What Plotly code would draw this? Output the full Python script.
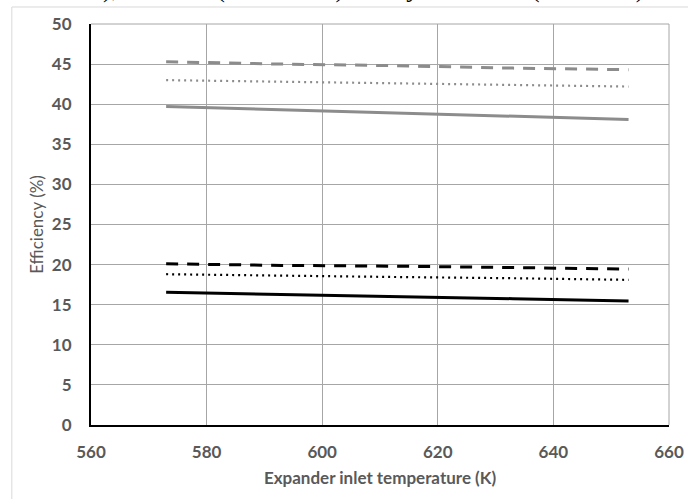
import plotly.graph_objects as go

# Expander inlet temperature (K)
temps = [573, 593, 613, 633, 653]

# Upper group (gray)
gray_dashed = [45.3, 45.0, 44.8, 44.5, 44.3]
gray_dotted = [43.0, 42.8, 42.6, 42.4, 42.2]
gray_solid = [39.7, 39.3, 38.9, 38.5, 38.1]

# Lower group (black)
black_dashed = [20.1, 19.9, 19.8, 19.6, 19.45]
black_dotted = [18.8, 18.6, 18.45, 18.3, 18.1]
black_solid = [16.55, 16.3, 16.0, 15.75, 15.45]

x_ticks = [560, 580, 600, 620, 640, 660]
y_ticks = [0, 5, 10, 15, 20, 25, 30, 35, 40, 45, 50]

GRAY = "#8c8c8c"
series = [
    (gray_dashed, GRAY, "12px,9px", 3),
    (gray_dotted, GRAY, "2px,4px", 2.2),
    (gray_solid, GRAY, "solid", 3),
    (black_dashed, "black", "12px,9px", 3),
    (black_dotted, "black", "2px,4px", 2.2),
    (black_solid, "black", "solid", 3),
]

fig = go.Figure()
for ys, col, dash, w in series:
    fig.add_trace(go.Scatter(x=temps, y=ys, mode="lines",
                             line=dict(color=col, dash=dash, width=w),
                             showlegend=False, hoverinfo="skip"))

TXT = "#595959"
tick_font = dict(family="Lato", size=17, color=TXT, weight="bold")
fig.update_layout(
    width=688, height=499,
    margin=dict(l=91, r=19, t=24, b=74),
    paper_bgcolor="white", plot_bgcolor="white",
    xaxis=dict(range=[560, 660], tickvals=x_ticks, showgrid=True,
               gridcolor="#a6a6a6", gridwidth=1, zeroline=False,
               showline=True, linecolor="black", linewidth=2,
               mirror=False, ticks="", tickfont=tick_font,
               ticklabelstandoff=11, automargin=False,
               title=dict(text="Expander inlet temperature (K)",
                          font=dict(family="Lato", size=17, color=TXT, weight="bold"),
                          standoff=11)),
    yaxis=dict(range=[0, 50], tickvals=y_ticks, showgrid=True,
               gridcolor="#a6a6a6", gridwidth=1, zeroline=False,
               showline=True, linecolor="black", linewidth=2,
               ticks="", tickfont=tick_font, ticklabelstandoff=14,
               automargin=False,
               title=dict(text="Efficiency (%)",
                          font=dict(family="Lato", size=17, color=TXT),
                          standoff=4)),
    shapes=[
        # plot border (top and right) in gridline gray
        dict(type="line", xref="paper", yref="paper", x0=0, x1=1, y0=1, y1=1,
             line=dict(color="#a6a6a6", width=1)),
        dict(type="line", xref="paper", yref="paper", x0=1, x1=1, y0=0, y1=1,
             line=dict(color="#a6a6a6", width=1)),
        # outer chart frame
        dict(type="line", xref="paper", yref="paper", x0=-0.137, x1=1.1,
             y0=1.0424, y1=1.0424, line=dict(color="#d9d9d9", width=1)),
        dict(type="line", xref="paper", yref="paper", x0=-0.137, x1=-0.137,
             y0=-0.3, y1=1.0424, line=dict(color="#d9d9d9", width=1)),
    ],
    annotations=[
        dict(text="line), benzene (dotted line) and cyclohexane (solid line)",
             xref="paper", yref="paper", x=0.455, y=1.048, xanchor="center",
             yanchor="bottom", showarrow=False,
             font=dict(family="Liberation Serif", size=26, color="black")),
    ],
)

fig.write_html("out.html", config={"displayModeBar": False},
               post_script="document.body.style.margin='0';")
